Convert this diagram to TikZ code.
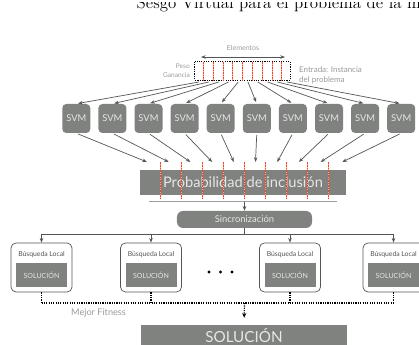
\documentclass[tikz,border=0pt]{standalone}
\usepackage{fontspec}
\newfontfamily\gill{Lato}
\usetikzlibrary{arrows.meta}
\definecolor{boxgray}{HTML}{7F827F}
\definecolor{boxtext}{HTML}{E6E6E6}
\definecolor{labelgray}{HTML}{9A9A9A}
\definecolor{arrowgray}{HTML}{555555}
\definecolor{redline}{HTML}{FF3C1E}
\definecolor{pinkline}{HTML}{FFA898}
\definecolor{rulegray}{HTML}{A0A0A0}
\tikzset{
  svmbox/.style={fill=boxgray, rounded corners=0.12cm, minimum width=0.84cm, minimum height=0.87cm, inner sep=0, text=boxtext, font=\gill\fontsize{8}{9}\selectfont},
  probbox/.style={fill=boxgray, minimum width=6.18cm, minimum height=0.75cm, inner sep=0, text=boxtext, font=\gill\fontsize{12.5}{14}\selectfont},
  syncbox/.style={fill=boxgray, rounded corners=0.18cm, minimum width=4.05cm, minimum height=0.51cm, inner sep=0, text=boxtext, font=\gill\fontsize{8}{9}\selectfont},
  busbox/.style={draw=arrowgray, line width=0.6pt, fill=white, rounded corners=0.15cm, minimum width=1.83cm, minimum height=1.47cm, inner sep=0},
  solbox/.style={fill=boxgray, minimum width=1.53cm, minimum height=0.72cm, inner sep=0, text=boxtext, font=\gill\fontsize{6}{7}\selectfont},
  bigsol/.style={fill=boxgray, minimum width=6.18cm, minimum height=0.66cm, inner sep=0, text=boxtext, font=\gill\fontsize{13}{15}\selectfont},
  buslabel/.style={inner sep=0, text=arrowgray, font=\gill\fontsize{5.8}{7}\selectfont},
  graylabel/.style={inner sep=0, text=labelgray},
  arr/.style={draw=arrowgray, line width=0.6pt, -{Stealth[length=4pt,width=3pt]}},
  plainline/.style={draw=arrowgray, line width=0.6pt},
  dotline/.style={draw=black, line width=1pt, densely dotted},
  redrule/.style={preaction={draw=pinkline, line width=0.7pt, solid}, draw=redline, line width=0.85pt, dash pattern=on 1.3pt off 0.85pt},
}
\begin{document}
\begin{tikzpicture}[x=0.03cm,y=-0.03cm,font=\gill]
\useasboundingbox (0,0) rectangle (419,345);
\clip (0,0) rectangle (419,345);

% title (only its lower part shows)
\begin{scope}
\clip (0,3) rectangle (419,20);
\node[anchor=base west, inner sep=0, font=\rmfamily\fontsize{14.4}{16}\selectfont] (title) at (136.5,8.3) {Sesgo Virtual para el problema de la m};
\end{scope}

% input instance
\node[graylabel, font=\gill\fontsize{6}{7}\selectfont] (elem) at (243,48) {Elementos};
\coordinate (ea) at (201,57);
\coordinate (eb) at (285,57);
\draw[draw=arrowgray, line width=0.8pt, {Stealth[length=4pt,width=3pt]}-{Stealth[length=4pt,width=3pt]}] (ea) -- (eb);
\node[draw=none, minimum width=2.85cm, minimum height=0.54cm, inner sep=0] (inst) at (242.5,71) {};
\draw[dotline] (inst.north west) rectangle (inst.south east);
\foreach \rx [count=\k] in {203.5,213.5,223.5,232.5,242.5,252.5,262.5,272.5,281.5} {
  \coordinate (ra\k) at (\rx,62);
  \coordinate (rb\k) at (\rx,80);
  \draw[redrule] (ra\k) -- (rb\k);
}
\node[graylabel, anchor=east, font=\gill\fontsize{5.6}{7}\selectfont] (peso) at (190,66) {Peso};
\node[graylabel, anchor=east, font=\gill\fontsize{5.6}{7}\selectfont] (gan) at (190,75.5) {Ganancia};
\node[graylabel, anchor=west, align=left, font=\gill\fontsize{6.8}{8.5}\selectfont] (entrada) at (299,75) {Entrada: Instancia\\del problema};

% SVMs
\foreach \i in {0,...,9} {
  \pgfmathsetmacro\cx{76.3+36.1*\i}
  \node[svmbox] (svm\i) at (\cx,118.5) {SVM};
  \pgfmathsetmacro\sx{199+9.8*\i}
  \coordinate (src\i) at (\sx,82);
  \draw[arr, shorten >=1.5pt] (src\i) -- (svm\i.north);
  \pgfmathsetmacro\tx{147+21.7*\i}
  \coordinate (tgt\i) at (\tx,162);
  \draw[arr, shorten <=1.5pt] (svm\i.south) -- (tgt\i);
}

% probability
\node[probbox] (prob) at (243,182.5) {Probabilidad de inclusión};
\foreach \px [count=\k] in {160.5,181.5,202.5,223.5,244.5,265.5,286.5,307.5,328.5} {
  \coordinate (pa\k) at (\px,162.5);
  \coordinate (pb\k) at (\px,199.5);
  \draw[redrule] (pa\k) -- (pb\k);
}
\coordinate (hl) at (149,201.7);
\coordinate (hr) at (337,201.7);
\draw[draw=rulegray, line width=1.3pt] (hl) -- (hr);
\coordinate (hm) at (244.5,201.7);

\node[syncbox] (sync) at (244.5,219.5) {Sincronización};
\draw[arr] (hm) -- (sync.north);

% local searches
\coordinate (bl) at (41.5,234);
\coordinate (br) at (393.5,234);
\coordinate (bm) at (244.5,234);
\draw[plainline] (sync.south) -- (bm);
\draw[plainline] (bl) -- (br);
\foreach \j/\bx in {0/41.5,1/151,2/290,3/393.5} {
  \node[busbox] (bus\j) at (\bx,267.5) {};
  \coordinate (top\j) at (\bx,234);
  \draw[arr] (top\j) -- (bus\j.north);
  \node[buslabel] (bl\j) at (\bx,255) {Búsqueda Local};
  \node[solbox] (sol\j) at (\bx,275) {SOLUCIÓN};
  \coordinate (dd\j) at (\bx,303);
  \draw[dotline] (bus\j.south) -- (dd\j);
}
\fill[black] (209,272) circle (1.6);
\fill[black] (220.5,272) circle (1.6);
\fill[black] (232,272) circle (1.6);

\draw[dotline] (dd0) -- (dd3);
\coordinate (dm) at (244.5,303);
\node[bigsol] (final) at (244,336) {SOLUCIÓN};
\draw[dotline, -{Stealth[length=4pt,width=3.5pt]}, shorten >=6pt] (dm) -- (final.north);
\node[graylabel, font=\gill\fontsize{7.8}{9}\selectfont] (fit) at (98.5,313) {Mejor Fitness};
\end{tikzpicture}
\end{document}
